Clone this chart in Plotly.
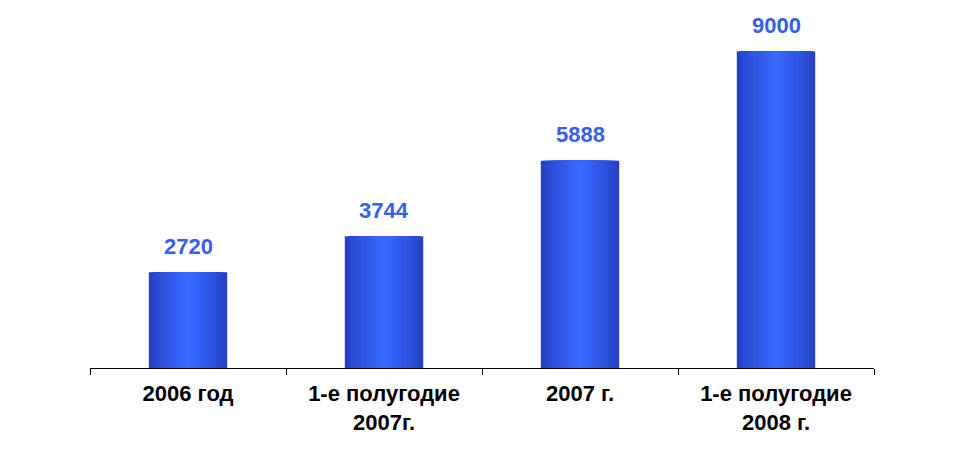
"""Bar chart: volumes by period, with gradient-shaded bars and value labels."""

import plotly.graph_objects as go

categories = [
    "2006 год",
    "1-е полугодие<br>2007г.",
    "2007 г.",
    "1-е полугодие<br>2008 г.",
]
values = [2720, 3744, 5888, 9000]

EDGE = (36, 64, 196)
CENTER = (56, 104, 255)
N_LAYERS = 14
BAR_WIDTH = 0.40


def _mix(a, b, t):
    return "rgb({},{},{})".format(*[round(x + (y - x) * t) for x, y in zip(a, b)])


fig = go.Figure()

# Horizontal gradient: overlay progressively narrower, lighter bars
for i in range(N_LAYERS):
    t = i / (N_LAYERS - 1)
    fig.add_trace(
        go.Bar(
            x=categories,
            y=values,
            width=BAR_WIDTH * (1 - 0.93 * t),
            marker={"color": _mix(EDGE, CENTER, t ** 0.8), "line": {"width": 0}},
            hoverinfo="skip",
            showlegend=False,
        )
    )

for cat, val in zip(categories, values):
    fig.add_annotation(
        x=cat,
        y=val,
        text=f"<b>{val}</b>",
        showarrow=False,
        yshift=26,
        font={"family": "Liberation Sans, Arial", "size": 22, "color": "#3560E8"},
    )

# page body has an 8px margin, so the figure is sized to fit inside it
fig.update_layout(
    barmode="overlay",
    plot_bgcolor="white",
    paper_bgcolor="white",
    width=941,
    height=444,
    margin={"l": 82, "r": 75, "t": 8, "b": 84},
    showlegend=False,
)

fig.update_xaxes(
    type="category",
    tickvals=categories,
    ticktext=[f"<b>{c}</b>" for c in categories],
    tickson="boundaries",
    ticks="outside",
    ticklen=6,
    tickcolor="black",
    showline=True,
    linecolor="black",
    linewidth=1,
    showgrid=False,
    ticklabelstandoff=6,
    tickfont={"family": "Liberation Sans, Arial", "size": 22, "color": "black"},
)
fig.update_yaxes(
    range=[0, 10000],
    visible=False,
    showgrid=False,
)

fig.write_html("out.html")
